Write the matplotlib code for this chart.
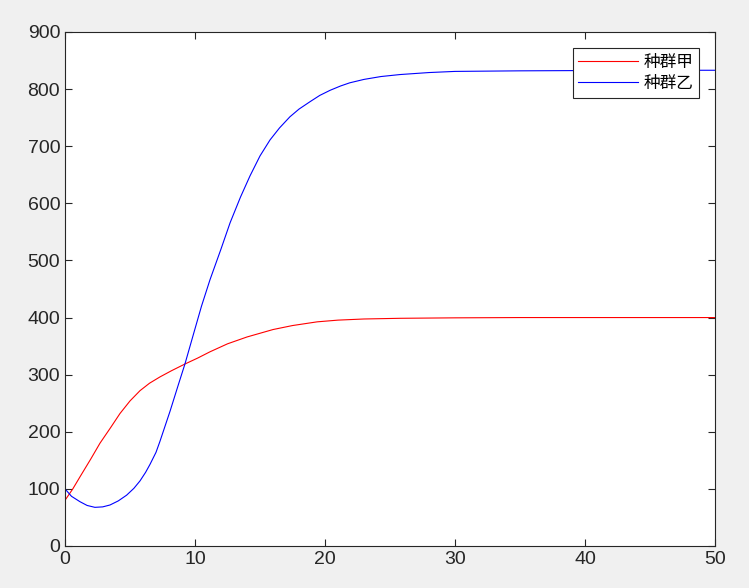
import numpy as np
import matplotlib.pyplot as plt

plt.rcParams['font.family'] = ['Liberation Sans', 'DejaVu Sans']

# values
t_a = [0, 0.6, 1.15, 2.0, 2.69, 3.5, 4.23, 5.0, 5.77, 6.5, 7.3, 8.2, 9.23, 10.2, 11.15,
       12.5, 14.0, 15.0, 16.0, 17.5, 19.4, 21.0, 23.0, 25.8, 30, 35, 40, 50]
pop_a = [80, 100, 121, 153, 180, 207, 232, 254, 272, 285, 296, 307, 318.7, 329, 340,
         354, 366, 372.5, 379, 386, 392.5, 395.5, 397.5, 398.7, 399.5, 400, 400, 400]

t_b = [0, 0.5, 1.15, 1.7, 2.3, 2.9, 3.46, 4.1, 4.74, 5.3, 5.77, 6.2, 6.54, 7.0, 7.3,
       8.08, 8.7, 9.23, 9.87, 10.5, 11.15, 12.0, 12.7, 13.5, 14.23, 15.0, 15.77, 16.5,
       17.3, 18.0, 18.85, 19.6, 20.4, 21.2, 21.9, 23.0, 24.3, 25.77, 28, 30, 35, 40, 45, 50]
pop_b = [100, 87, 77.6, 71, 67.7, 68.5, 71.8, 79, 89, 101, 114, 129, 143, 164, 183,
         236, 281, 319, 370, 420, 466, 520, 566, 611, 648, 683, 711, 732,
         751.5, 765, 778, 789, 798, 805.5, 811, 817, 822, 825.5, 829, 831, 832, 832.5, 833, 833]

fig = plt.figure(figsize=(7.49, 5.88), dpi=100, facecolor='#f0f0f0')
ax = fig.add_axes([65/749, 42/588, 650/749, 514/588])

ax.plot(t_a, pop_a, color='red', lw=0.8, label='种群甲')
ax.plot(t_b, pop_b, color='blue', lw=0.8, label='种群乙')

ax.set_xlim(0, 50)
ax.set_ylim(0, 900)
ax.set_xticks(np.arange(0, 51, 10))
ax.set_yticks(np.arange(0, 901, 100))
ax.tick_params(direction='in', top=True, right=True, labelsize=14,
               colors='#262626', length=5, width=0.8)
for s in ax.spines.values():
    s.set_linewidth(0.8)
    s.set_color('#262626')

leg = ax.legend(loc='upper right', fancybox=False, edgecolor='#262626',
                prop={'family': ['Noto Sans CJK SC', 'DejaVu Sans'], 'size': 12},
                handlelength=3.6, borderaxespad=0.95, framealpha=1,
                labelspacing=0.25, borderpad=0.35, handletextpad=0.3)
leg.get_frame().set_linewidth(0.8)

plt.savefig('out.png', dpi=100, facecolor=fig.get_facecolor())
